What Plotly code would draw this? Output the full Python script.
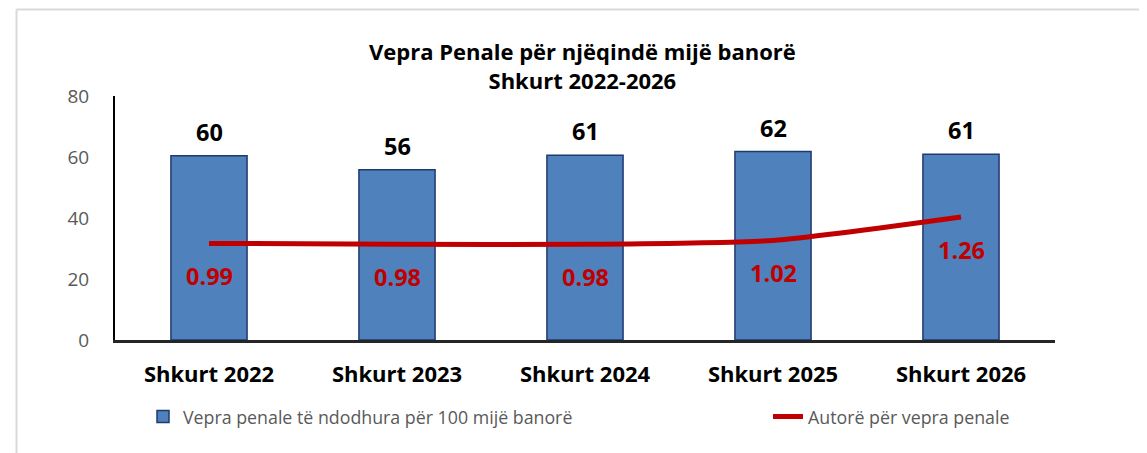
import plotly.graph_objects as go

categories = ["Shkurt 2022", "Shkurt 2023", "Shkurt 2024", "Shkurt 2025", "Shkurt 2026"]
vepra = [60.4, 55.8, 60.6, 61.8, 60.9]
autore = [0.99, 0.98, 0.98, 1.02, 1.26]
bar_name = "Vepra penale të ndodhura për 100 mijë banorë"
line_name = "Autorë për vepra penale"
title_lines = ["Vepra Penale për njëqindë mijë banorë", "Shkurt 2022-2026"]

FONT = "Open Sans"
OFF = 8  # default page body margin in the html output
W, H = 1147 - OFF, 453 - OFF
PLOT_L, PLOT_R, PLOT_T, PLOT_B = 115, 1055, 96, 340  # in screenshot pixels
ML, MR, MT, MB = PLOT_L - OFF, W - (PLOT_R - OFF), PLOT_T - OFF, H - (PLOT_B - OFF)
PW = W - ML - MR
PH = H - MT - MB


def px_x(px):
    return (px - OFF - ML) / PW


def px_y(py):
    return (H - MB - (py - OFF)) / PH


fig = go.Figure()
fig.add_trace(go.Bar(
    x=categories, y=vepra, name=bar_name, legend="legend",
    marker=dict(color="#4F81BD", line=dict(color="#1F3A6E", width=1.5)),
))
for c, v in zip(categories, vepra):
    fig.add_annotation(
        x=c, y=v, text=f"{v:.0f}", showarrow=False, yanchor="bottom", yshift=6,
        font=dict(family=FONT, size=23.5, color="black", weight="bold"),
    )
fig.add_trace(go.Scatter(
    x=categories, y=autore, name=line_name, yaxis="y2", mode="lines", legend="legend2",
    line=dict(color="#C00000", width=5, shape="spline", smoothing=0.6),
))
for c, v in zip(categories, autore):
    fig.add_annotation(
        x=c, y=v, yref="y2", text=f"{v:.2f}", showarrow=False, yshift=-33,
        font=dict(family=FONT, size=23.5, color="#C00000", weight="bold"),
    )

fig.add_annotation(
    xref="paper", yref="paper", x=px_x(582), y=px_y(65), xanchor="center", yanchor="middle",
    text="<br>".join(title_lines), showarrow=False,
    font=dict(family=FONT, size=22, color="black", weight="bold"),
)

# outer chart-area border (light grey)
fig.add_shape(type="line", xref="paper", yref="paper", x0=px_x(16.5), x1=px_x(1170),
              y0=px_y(9.5), y1=px_y(9.5), line=dict(color="#D9D9D9", width=2))
fig.add_shape(type="line", xref="paper", yref="paper", x0=px_x(16.5), x1=px_x(16.5),
              y0=px_y(9.5), y1=px_y(480), line=dict(color="#D9D9D9", width=2))

legend_font = dict(family=FONT, size=17.8, color="#595959")
fig.update_layout(
    width=W, height=H,
    margin=dict(l=ML, r=MR, t=MT, b=MB, autoexpand=False),
    paper_bgcolor="white", plot_bgcolor="white",
    bargap=0.595,
    showlegend=True,
    legend=dict(orientation="h", x=px_x(143), xanchor="left", y=px_y(417), yanchor="middle",
                font=legend_font, bgcolor="rgba(0,0,0,0)"),
    legend2=dict(orientation="h", x=px_x(768), xanchor="left", y=px_y(417), yanchor="middle",
                 font=legend_font, bgcolor="rgba(0,0,0,0)"),
    xaxis=dict(
        showline=True, linecolor="#262626", linewidth=2.5, ticks="", showgrid=False,
        tickfont=dict(family=FONT, size=22, color="black", weight="bold"),
        ticklabelstandoff=13, automargin=False,
    ),
    yaxis=dict(
        range=[0, 80], dtick=20, showline=True, linecolor="black", linewidth=2,
        ticks="", showgrid=False, zeroline=False,
        tickfont=dict(family=FONT, size=19, color="#595959"),
        ticklabelstandoff=20, automargin=False,
    ),
    yaxis2=dict(range=[0, 2.5], overlaying="y", side="right", visible=False),
)

fig.write_html("out.html")
